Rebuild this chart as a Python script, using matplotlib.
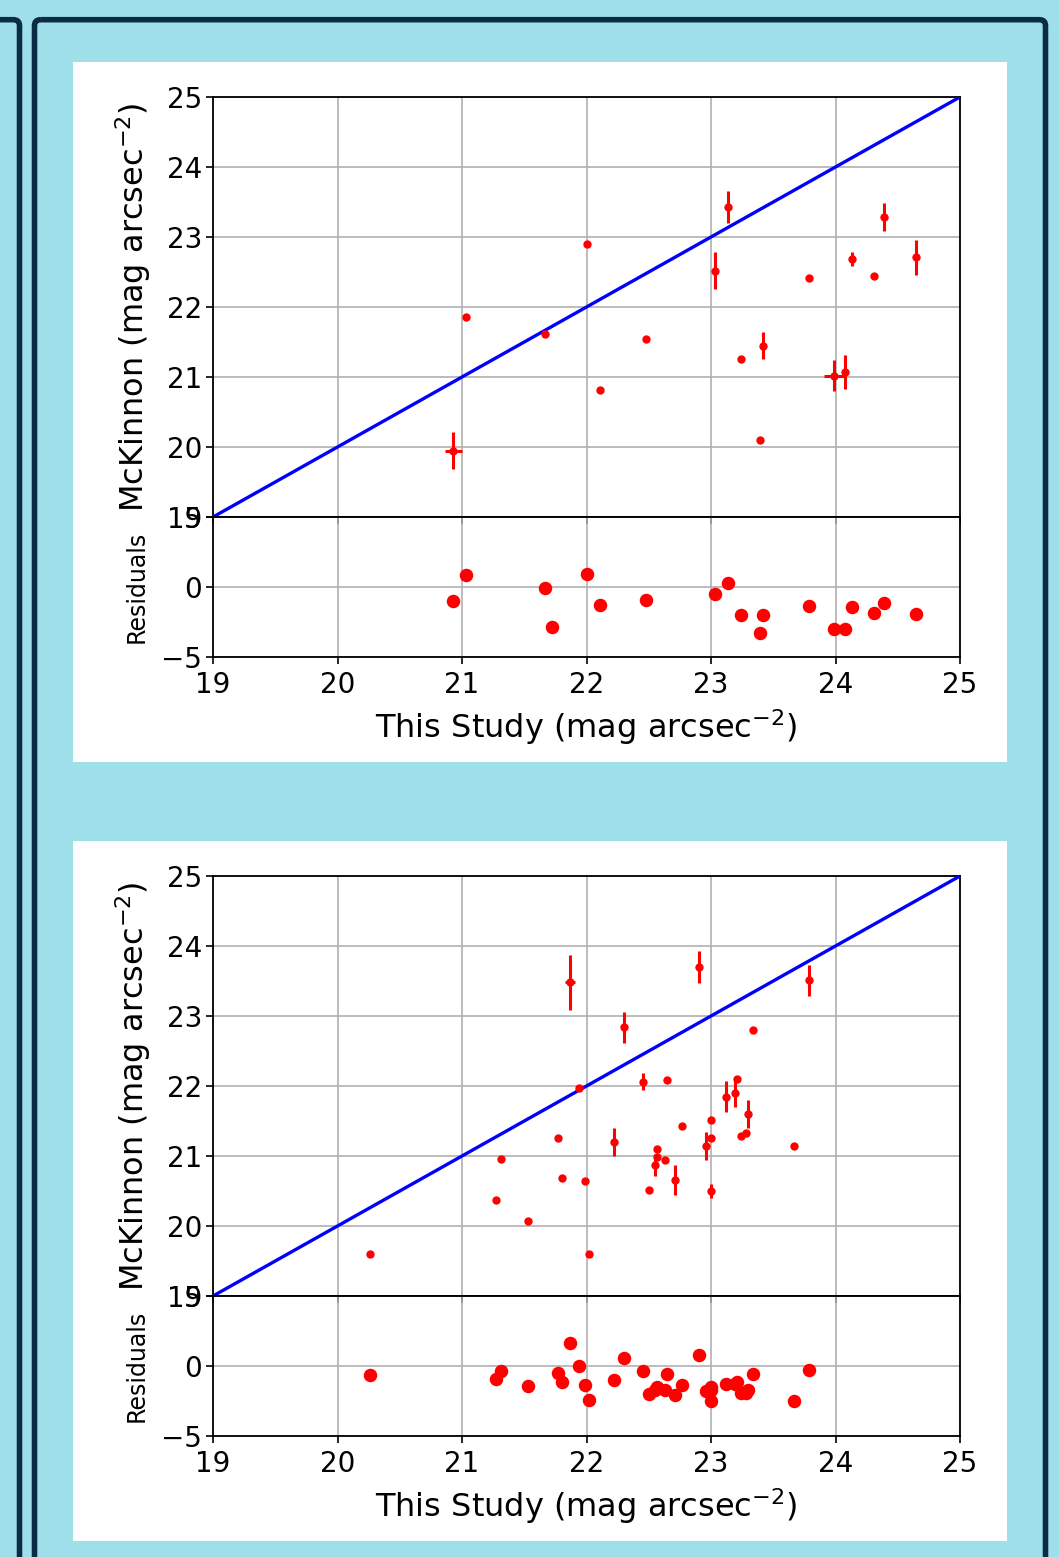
import matplotlib
matplotlib.use("Agg")
import matplotlib.pyplot as plt
from matplotlib.patches import FancyBboxPatch, Rectangle
import numpy as np

# ---------------- data ----------------
# Panel 1
x1 = [20.93, 21.03, 21.67, 21.72, 22.00, 22.11, 22.48, 23.03, 23.14, 23.24,
      23.39, 23.42, 23.79, 23.99, 24.08, 24.13, 24.31, 24.39, 24.65]
y1 = [19.95, 21.86, 21.61, 18.86, 22.90, 20.81, 21.54, 22.52, 23.43, 21.26,
      20.10, 21.45, 22.42, 21.02, 21.07, 22.69, 22.45, 23.28, 22.71]
yerr1 = [0.27, 0, 0, 0, 0, 0, 0, 0.26, 0.23, 0,
         0, 0.19, 0, 0.22, 0.24, 0.10, 0, 0.20, 0.25]
xerr1 = [0.07, 0, 0, 0, 0, 0, 0, 0, 0, 0,
         0, 0, 0, 0.08, 0, 0, 0, 0, 0]

# Panel 2
x2 = [20.26, 21.27, 21.31, 21.53, 21.77, 21.80, 21.87, 21.94, 21.99, 22.02,
      22.22, 22.30, 22.45, 22.50, 22.55, 22.57, 22.57, 22.63, 22.65, 22.71,
      22.77, 22.90, 22.96, 23.00, 23.00, 23.00, 23.12, 23.19, 23.21, 23.24,
      23.28, 23.30, 23.34, 23.67, 23.79]
y2 = [19.60, 20.37, 20.96, 20.07, 21.26, 20.68, 23.48, 21.97, 20.64, 19.60,
      21.20, 22.84, 22.06, 20.52, 20.87, 21.10, 20.99, 20.94, 22.08, 20.66,
      21.43, 23.70, 21.14, 21.51, 21.26, 20.50, 21.85, 21.90, 22.10, 21.29,
      21.33, 21.60, 22.80, 21.15, 23.51]
yerr2 = [0, 0, 0, 0, 0, 0, 0.39, 0, 0, 0,
         0.20, 0.22, 0.12, 0, 0.16, 0, 0, 0, 0, 0.21,
         0, 0.23, 0.20, 0, 0, 0.10, 0.22, 0.20, 0, 0,
         0, 0.20, 0, 0, 0.22]
xerr2 = [0, 0, 0, 0, 0, 0, 0.04, 0, 0, 0,
         0, 0, 0, 0, 0, 0, 0, 0, 0, 0,
         0, 0, 0, 0, 0, 0, 0, 0, 0, 0,
         0, 0, 0, 0, 0]

one_to_one = [19, 25]
main_ticks = [19, 20, 21, 22, 23, 24, 25]
resid_ticks = [-5, 0, 5]

xlabel = "This Study (mag arcsec$^{-2}$)"
ylabel = "McKinnon (mag arcsec$^{-2}$)"
rlabel = "Residuals"

# ---------------- figure ----------------
W, H = 1059, 1557
BG = "#9edfea"
NAVY = "#0a2c44"
fig = plt.figure(figsize=(W / 100, H / 100), dpi=100, facecolor=BG)

bg = fig.add_axes([0, 0, 1, 1], zorder=-10)
bg.set_xlim(0, W)
bg.set_ylim(H, 0)
bg.axis("off")
bg.set_facecolor(BG)

# frames
for (l, t, r) in [(-200, 19.7, 19.5), (34.5, 19.7, 1045.5)]:
    bg.add_patch(FancyBboxPatch((l, t), r - l, 2000, boxstyle="round,pad=0,rounding_size=6",
                                fill=False, ec=NAVY, lw=4.0, clip_on=False))
# white panels
for (l, t, r, b) in [(73, 62, 1007, 762), (73, 841, 1007, 1541)]:
    bg.add_patch(Rectangle((l, t), r - l, b - t, fc="white", ec="none"))


def box(l, t, r, b):
    return [l / W, 1 - b / H, (r - l) / W, (b - t) / H]


TICK = 20
LAB = 23
RLAB = 17


def style(ax):
    ax.grid(True, color="#b0b0b0", lw=1.2)
    ax.set_axisbelow(True)
    for s in ax.spines.values():
        s.set_linewidth(1.3)
    ax.tick_params(labelsize=TICK, length=5, width=1.2, pad=3)


def panel(top, xs, ys, xe, ye):
    ax = fig.add_axes(box(213, top, 960, top + 420))
    axr = fig.add_axes(box(213, top + 420, 960, top + 560))
    for a in (ax, axr):
        style(a)
    ax.plot(one_to_one, one_to_one, color="blue", lw=2.4, zorder=3)
    ax.errorbar(xs, ys, xerr=xe, yerr=ye, fmt="o", color="red", ms=5,
                elinewidth=2.2, capsize=0, zorder=4)
    ax.set_xlim(19, 25)
    ax.set_ylim(19, 25)
    ax.set_xticks(main_ticks)
    ax.set_yticks(main_ticks)
    ax.tick_params(axis="x", labelbottom=False)
    ax.set_ylabel(ylabel, fontsize=LAB)
    ax.yaxis.set_label_coords(-0.08, 0.5)

    res = np.array(ys) - np.array(xs)
    axr.plot(xs, res, "o", color="red", ms=8.7, zorder=4)
    axr.set_xlim(19, 25)
    axr.set_ylim(-5, 5)
    axr.set_xticks(main_ticks)
    axr.set_yticks(resid_ticks)
    axr.tick_params(axis="x", pad=5)
    axr.set_xlabel(xlabel, fontsize=LAB, labelpad=6)
    axr.set_ylabel(rlabel, fontsize=RLAB)
    axr.yaxis.set_label_coords(-0.086, 0.5)
    axr.set_facecolor("none")


panel(97, x1, y1, xerr1, yerr1)
panel(876, x2, y2, xerr2, yerr2)

fig.savefig("out.png", dpi=100, facecolor=BG)
